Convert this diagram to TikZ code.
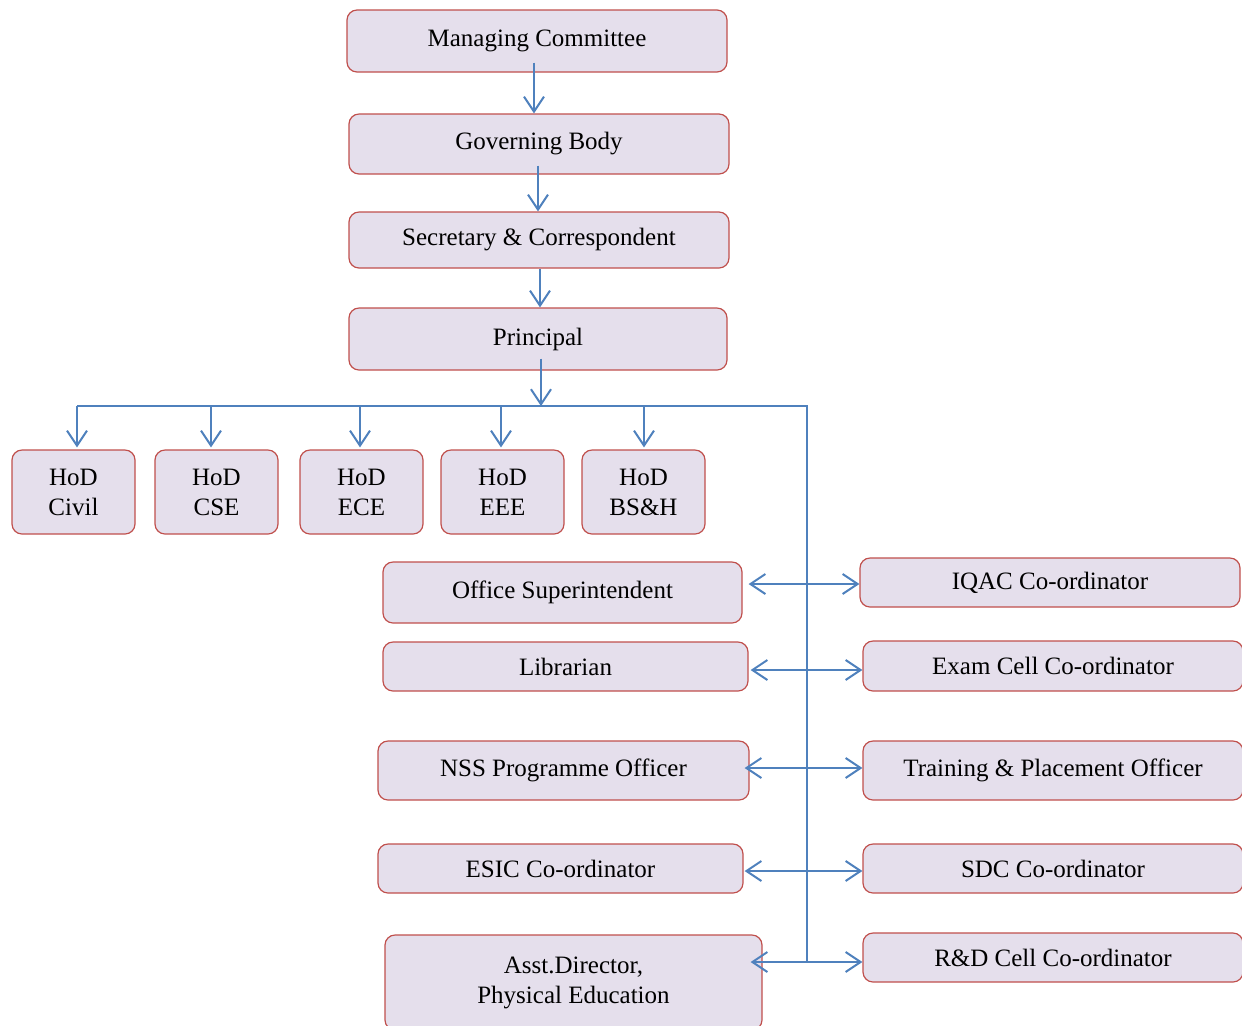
\documentclass[tikz,border=0pt]{standalone}
\usepackage{fontspec}
\setmainfont{Liberation Serif}
\usetikzlibrary{arrows.meta,calc}
\definecolor{boxfill}{HTML}{E5DFEC}
\definecolor{boxline}{HTML}{C0504D}
\definecolor{arrowblue}{HTML}{4F81BD}
\tikzset{
  box/.style={draw=boxline, fill=boxfill, rounded corners=5pt, line width=0.6pt,
    inner sep=0pt, align=center, font=\fontsize{12.5}{15}\selectfont},
  conn/.style={draw=arrowblue, line width=1pt},
  arr/.style={conn, -{Straight Barb[length=7.5pt,width=10pt,line width=1pt]}},
  darr/.style={conn, {Straight Barb[length=7.5pt,width=10pt,line width=1pt]}-{Straight Barb[length=7.5pt,width=10pt,line width=1pt]}}
}
\begin{document}
\begin{tikzpicture}[x=0.5pt,y=-0.5pt]
\useasboundingbox (0,0) rectangle (1242,1025);
\clip (0,0) rectangle (1242,1025);
% top chain
\node[box, minimum width=190pt, minimum height=31pt] (mc) at (537,41) {Managing Committee};
\node[box, minimum width=190pt, minimum height=30pt] (gb) at (539,144) {Governing Body};
\node[box, minimum width=190pt, minimum height=28pt] (sc) at (539,240) {Secretary \& Correspondent};
\node[box, minimum width=189pt, minimum height=31pt] (pr) at (538,339) {Principal};
% HoDs
\node[box, minimum width=61.5pt, minimum height=42pt] (civ) at (73.5,492) {HoD\\Civil};
\node[box, minimum width=61.5pt, minimum height=42pt] (cse) at (216.5,492) {HoD\\CSE};
\node[box, minimum width=61.5pt, minimum height=42pt] (ece) at (361.5,492) {HoD\\ECE};
\node[box, minimum width=61.5pt, minimum height=42pt] (eee) at (502.5,492) {HoD\\EEE};
\node[box, minimum width=61.5pt, minimum height=42pt] (bsh) at (643.5,492) {HoD\\BS\&H};
% left column
\node[box, minimum width=179.5pt, minimum height=30.5pt] (os) at (562.5,592.5) {Office Superintendent};
\node[box, minimum width=182.5pt, minimum height=24.5pt] (lib) at (565.5,666.5) {Librarian};
\node[box, minimum width=185.5pt, minimum height=29.5pt] (nss) at (563.5,770.5) {NSS Programme Officer};
\node[box, minimum width=182.5pt, minimum height=24.5pt] (esic) at (560.5,868.5) {ESIC Co-ordinator};
\node[box, minimum width=188.5pt, minimum height=47.5pt] (ad) at (573.5,982.5) {Asst.Director,\\Physical Education};
% right column
\node[box, minimum width=190pt, minimum height=24.5pt] (iqac) at (1050,582.5) {IQAC Co-ordinator};
\node[box, minimum width=190pt, minimum height=25pt] (exam) at (1053,666) {Exam Cell Co-ordinator};
\node[box, minimum width=190pt, minimum height=29.5pt] (tpo) at (1053,770.5) {Training \& Placement Officer};
\node[box, minimum width=190pt, minimum height=24.5pt] (sdc) at (1053,868.5) {SDC Co-ordinator};
\node[box, minimum width=190pt, minimum height=24.5pt] (rd) at (1053,957.5) {R\&D Cell Co-ordinator};
% bus coordinates
\coordinate (busL) at (77,406);
\coordinate (busM) at (541,406);
\coordinate (busR) at (807,406);
\coordinate (busB) at (807,962);
% chain arrows
\draw[arr] ([xshift=-1.5pt,yshift=5pt]mc.south) -- ([xshift=-1.5pt]mc.south |- gb.north);
\draw[arr] ([xshift=-0.5pt,yshift=4.5pt]gb.south) -- ([xshift=-0.5pt]gb.south |- sc.north);
\draw[arr] ([xshift=0.5pt]sc.south) -- ([xshift=0.5pt]sc.south |- pr.north);
\draw[arr] ([yshift=6pt]busM |- pr.south) -- (busM);
% bus
\draw[conn] (busL) -- (busR) -- (busB);
\draw[arr] (busL) -- ([yshift=1pt]busL |- civ.north);
\draw[arr] (busL -| 211,0) -- ([yshift=1pt]cse.north -| 211,0);
\draw[arr] (busL -| 360,0) -- ([yshift=1pt]ece.north -| 360,0);
\draw[arr] (busL -| 501,0) -- ([yshift=1pt]eee.north -| 501,0);
\draw[arr] (busL -| 644,0) -- ([yshift=1pt]bsh.north -| 644,0);
% side arrows
\draw[darr] ([xshift=3pt]os.east |- 0,584) -- (iqac.west |- 0,584);
\draw[darr] ([xshift=1pt]lib.east |- 0,670) -- (exam.west |- 0,670);
\draw[darr] ([xshift=-2.5pt]nss.east |- 0,768) -- (tpo.west |- 0,768);
\draw[darr] ([xshift=0.5pt]esic.east |- 0,871) -- (sdc.west |- 0,871);
\draw[darr] ([xshift=-6pt]ad.east |- busB) -- (rd.west |- busB);
\end{tikzpicture}
\end{document}
